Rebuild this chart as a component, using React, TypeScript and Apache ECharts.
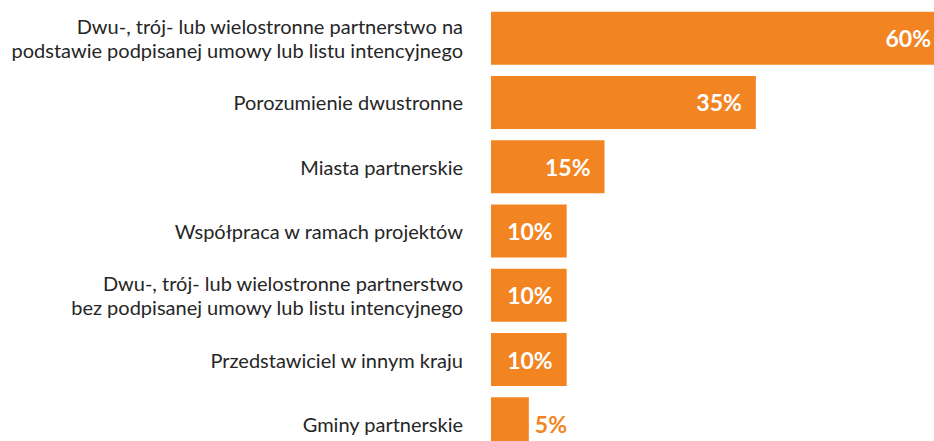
import React, { useEffect, useRef } from "react";
import * as echarts from "echarts";

const categories = [
  "Dwu-, trój- lub wielostronne partnerstwo na\npodstawie podpisanej umowy lub listu intencyjnego",
  "Porozumienie dwustronne",
  "Miasta partnerskie",
  "Współpraca w ramach projektów",
  "Dwu-, trój- lub wielostronne partnerstwo\nbez podpisanej umowy lub listu intencyjnego",
  "Przedstawiciel w innym kraju",
  "Gminy partnerskie",
];
const values = [60, 35, 15, 10, 10, 10, 5];

const ORANGE = "#F28422";

export default function App() {
  const ref = useRef<HTMLDivElement>(null);
  useEffect(() => {
    if (!ref.current) return;
    const chart = echarts.init(ref.current, null, { renderer: "svg" });
    chart.setOption({
      animation: false,
      grid: {
        left: 491,
        top: 6,
        width: 454,
        height: 450,
        containLabel: false,
        outerBoundsMode: "none",
      },
      xAxis: {
        type: "value",
        min: 0,
        max: 60,
        show: false,
      },
      yAxis: {
        type: "category",
        inverse: true,
        data: categories,
        axisLine: { show: false },
        axisTick: { show: false },
        splitLine: { show: false },
        axisLabel: {
          margin: 28,
          color: "#262626",
          fontFamily: "Lato",
          fontSize: 20,
          lineHeight: 24,
          align: "right",
        },
      },
      series: [
        {
          type: "bar",
          data: values.map((v) => ({
            value: v,
            label:
              v < 8
                ? { position: "right", distance: 6, color: ORANGE }
                : { position: "insideRight", distance: 14, color: "#ffffff" },
          })),
          barWidth: 53,
          itemStyle: { color: ORANGE },
          label: {
            show: true,
            formatter: "{c}%",
            fontFamily: "Lato",
            fontWeight: "bold",
            fontSize: 23,
          },
        },
      ],
    });
    return () => chart.dispose();
  }, []);
  return (
    <div
      ref={ref}
      style={{ position: "absolute", left: 0, top: 0, width: 934, height: 441 }}
    />
  );
}
